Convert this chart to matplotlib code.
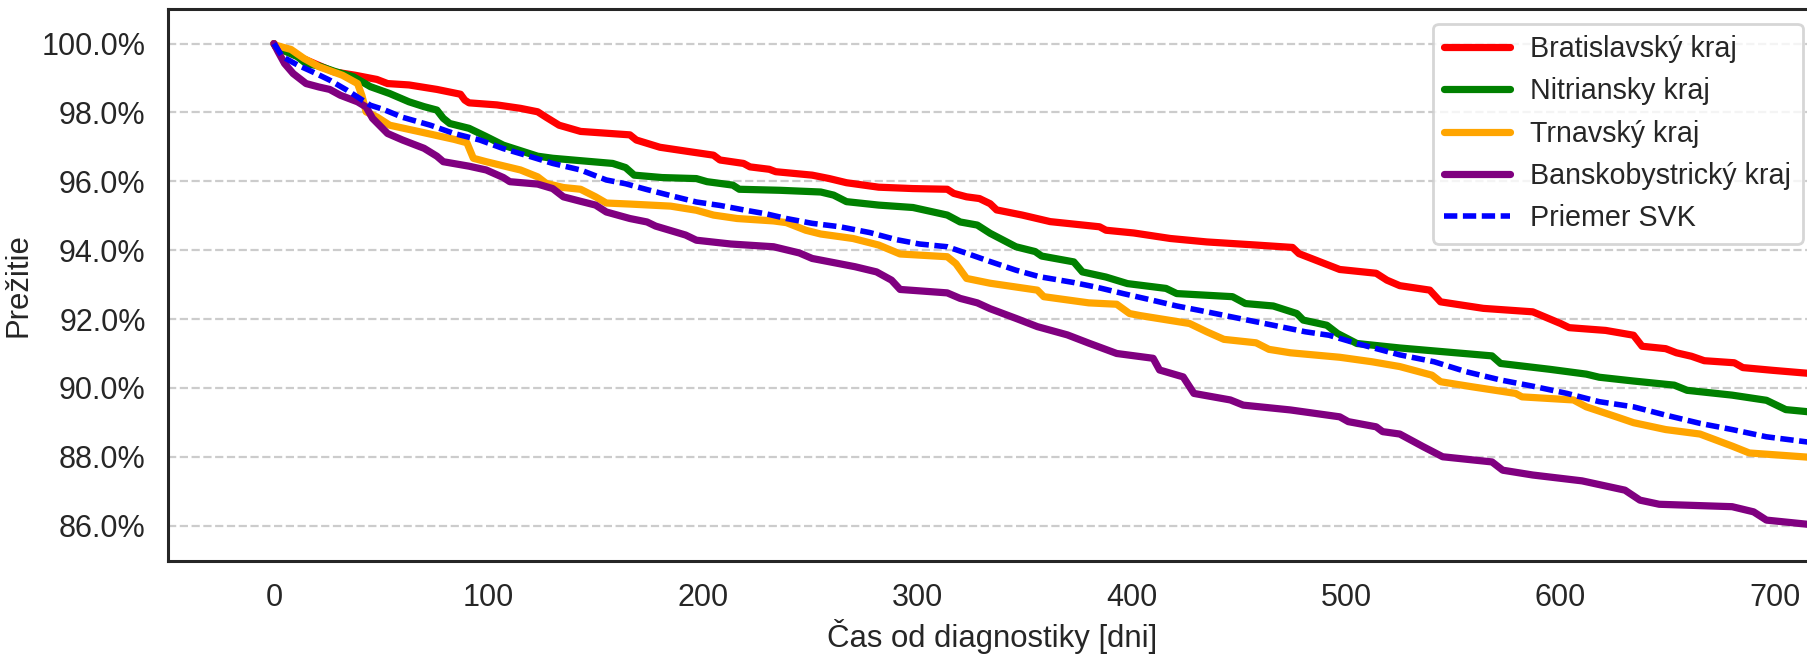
import matplotlib
matplotlib.use("Agg")
import matplotlib.pyplot as plt
from matplotlib.ticker import PercentFormatter
import seaborn as sns

# hodnoty odcitane z grafu (dni, prezitie v %)
ba_days = [0, 1, 28, 38, 48, 53, 63, 76, 87, 89, 91, 104, 115, 123, 127, 133, 143, 166, 169, 180, 194, 205, 208, 219,
           222, 231, 234, 251, 259, 267, 282, 298, 314, 317, 323, 329, 334, 337, 349, 362, 385, 388, 401, 418, 435,
           458, 475, 478, 497, 514, 519, 525, 539, 544, 564, 587, 600, 604, 621, 634, 638, 649, 654, 661, 667, 681,
           685, 699, 720]
ba_surv = [100, 99.9, 99.18, 99.08, 98.96, 98.84, 98.8, 98.67, 98.53, 98.36, 98.28, 98.22, 98.12, 98.02, 97.86, 97.63,
           97.45, 97.35, 97.2, 96.99, 96.86, 96.76, 96.62, 96.52, 96.42, 96.35, 96.28, 96.18, 96.08, 95.96, 95.83,
           95.79, 95.77, 95.65, 95.55, 95.5, 95.35, 95.17, 95.02, 94.83, 94.68, 94.58, 94.5, 94.34, 94.24, 94.15,
           94.08, 93.9, 93.44, 93.33, 93.13, 92.97, 92.84, 92.5, 92.31, 92.21, 91.87, 91.75, 91.67, 91.53, 91.21,
           91.14, 91.02, 90.92, 90.79, 90.73, 90.59, 90.51, 90.4]

nr_days = [0, 1, 11, 15, 21, 29, 37, 45, 54, 63, 70, 76, 79, 82, 91, 99, 107, 115, 123, 130, 143, 158, 164, 168, 181,
           197, 202, 214, 217, 236, 255, 261, 267, 282, 298, 314, 320, 328, 334, 346, 355, 358, 373, 377, 388, 398,
           416, 421, 447, 453, 466, 477, 480, 491, 496, 505, 525, 568, 572, 595, 612, 618, 634, 653, 659, 680, 696,
           705, 720]
nr_surv = [100, 99.9, 99.62, 99.42, 99.35, 99.18, 99.04, 98.75, 98.55, 98.31, 98.17, 98.07, 97.83, 97.68, 97.54, 97.3,
           97.05, 96.89, 96.73, 96.67, 96.6, 96.52, 96.4, 96.18, 96.11, 96.08, 95.99, 95.89, 95.77, 95.74, 95.69,
           95.6, 95.41, 95.31, 95.24, 95.02, 94.82, 94.73, 94.49, 94.1, 93.96, 93.83, 93.66, 93.37, 93.22, 93.03,
           92.89, 92.74, 92.65, 92.45, 92.38, 92.16, 91.97, 91.82, 91.58, 91.29, 91.16, 90.93, 90.71, 90.54, 90.4,
           90.31, 90.2, 90.08, 89.93, 89.79, 89.64, 89.37, 89.28]

tt_days = [0, 1, 8, 14, 21, 32, 39, 41, 43, 48, 54, 68, 84, 90, 93, 99, 115, 123, 127, 135, 143, 150, 155, 166, 185,
           197, 205, 216, 233, 239, 248, 255, 270, 282, 292, 314, 318, 323, 334, 356, 359, 380, 393, 399, 404, 427,
           435, 443, 458, 464, 474, 497, 512, 525, 540, 544, 559, 579, 582, 606, 612, 626, 634, 649, 665, 680, 688,
           715, 720]
tt_surv = [100, 99.95, 99.83, 99.57, 99.33, 99.08, 98.84, 98.5, 98.02, 97.87, 97.63, 97.44, 97.22, 97.12, 96.67, 96.57,
           96.33, 96.13, 95.94, 95.82, 95.77, 95.55, 95.37, 95.34, 95.28, 95.16, 95.02, 94.92, 94.85, 94.8, 94.58,
           94.47, 94.34, 94.15, 93.89, 93.81, 93.61, 93.18, 93.04, 92.84, 92.65, 92.47, 92.43, 92.16, 92.1, 91.87,
           91.63, 91.41, 91.31, 91.12, 91.02, 90.89, 90.76, 90.62, 90.37, 90.18, 90.03, 89.84, 89.74, 89.65, 89.45,
           89.16, 88.99, 88.79, 88.66, 88.31, 88.11, 87.99, 87.98]

bb_days = [0, 2, 5, 9, 15, 21, 26, 31, 39, 43, 46, 53, 60, 70, 76, 79, 91, 99, 107, 110, 123, 130, 135, 143, 150, 155,
           166, 174, 178, 192, 197, 213, 233, 245, 251, 271, 281, 288, 292, 314, 320, 328, 334, 346, 356, 370, 380,
           393, 410, 413, 424, 429, 446, 452, 474, 497, 501, 514, 517, 525, 536, 545, 568, 573, 587, 610, 630, 637,
           646, 680, 690, 696, 715, 720]
bb_surv = [100, 99.76, 99.42, 99.13, 98.84, 98.74, 98.67, 98.5, 98.31, 98.16, 97.83, 97.39, 97.2, 96.96, 96.73, 96.57,
           96.44, 96.33, 96.11, 95.99, 95.92, 95.79, 95.55, 95.42, 95.31, 95.11, 94.92, 94.82, 94.7, 94.44, 94.29,
           94.18, 94.1, 93.92, 93.76, 93.52, 93.37, 93.13, 92.86, 92.76, 92.6, 92.47, 92.3, 92.02, 91.78, 91.54,
           91.3, 91.0, 90.86, 90.52, 90.32, 89.84, 89.65, 89.5, 89.36, 89.16, 89.02, 88.87, 88.73, 88.66, 88.29,
           88.0, 87.85, 87.61, 87.47, 87.3, 87.03, 86.74, 86.62, 86.55, 86.4, 86.16, 86.04, 86.02]

svk_days = [0, 4, 11, 18, 26, 34, 45, 51, 60, 73, 84, 96, 107, 119, 130, 143, 155, 164, 174, 186, 197, 208, 220, 230,
            239, 251, 264, 278, 290, 301, 314, 323, 334, 346, 357, 373, 384, 396, 408, 421, 435, 450, 466, 481, 492,
            505, 525, 541, 556, 572, 587, 603, 618, 634, 649, 665, 680, 696, 715, 720]
svk_surv = [100, 99.62, 99.38, 99.18, 98.94, 98.65, 98.21, 98.09, 97.86, 97.63, 97.39, 97.2, 96.95, 96.73, 96.52, 96.33,
            96.04, 95.93, 95.76, 95.57, 95.4, 95.3, 95.16, 95.05, 94.92, 94.78, 94.68, 94.51, 94.31, 94.18, 94.1,
            93.91, 93.67, 93.42, 93.23, 93.06, 92.92, 92.74, 92.57, 92.38, 92.21, 92.02, 91.82, 91.63, 91.53, 91.29,
            90.96, 90.76, 90.47, 90.23, 90.05, 89.84, 89.6, 89.45, 89.21, 88.97, 88.79, 88.58, 88.43, 88.4]

labels = ["Bratislavský kraj", "Nitriansky kraj", "Trnavský kraj", "Banskobystrický kraj", "Priemer SVK"]
colors = ["red", "green", "orange", "purple", "blue"]

sns.set_theme(style="white")
plt.rcParams["font.family"] = ["Liberation Sans", "DejaVu Sans"]
plt.rcParams["text.color"] = ".15"
plt.rcParams["axes.labelcolor"] = ".15"
plt.rcParams["xtick.color"] = ".15"
plt.rcParams["ytick.color"] = ".15"

fig = plt.figure(figsize=(9.04, 3.285), dpi=200)
ax = fig.add_axes([0.0929, 0.146, 0.912, 0.840])

curves = [(ba_days, ba_surv), (nr_days, nr_surv), (tt_days, tt_surv), (bb_days, bb_surv)]
for (d, s), lab, col in zip(curves, labels[:4], colors[:4]):
    ax.plot(d, [v / 100 for v in s], color=col, lw=2.6, label=lab)
ax.plot(svk_days, [v / 100 for v in svk_surv], color=colors[4], lw=2.0, ls=(0, (2.4, 1.0)), label=labels[4])

ax.set_xlim(-49.4, 719.5)
ax.set_ylim(0.8497, 1.010)
ax.set_xticks([0, 100, 200, 300, 400, 500, 600, 700])
ax.set_yticks([0.86, 0.88, 0.90, 0.92, 0.94, 0.96, 0.98, 1.00])
ax.yaxis.set_major_formatter(PercentFormatter(1.0, decimals=1))
ax.tick_params(labelsize=11, length=0, pad=8)
ax.yaxis.grid(True, ls="--", color="#cccccc", lw=0.8)
ax.xaxis.grid(False)
for sp in ax.spines.values():
    sp.set_color(".15")
    sp.set_linewidth(1.1)

ax.set_xlabel("Čas od diagnostiky [dni]", fontsize=11.2, labelpad=2)
ax.set_ylabel("Prežitie", fontsize=11.2, labelpad=3)
ax.legend(loc="upper right", fontsize=10.3, frameon=True, edgecolor="#cccccc",
          handlelength=2.3, handletextpad=0.7, borderpad=0.4)

fig.savefig("out.png", dpi=200)
